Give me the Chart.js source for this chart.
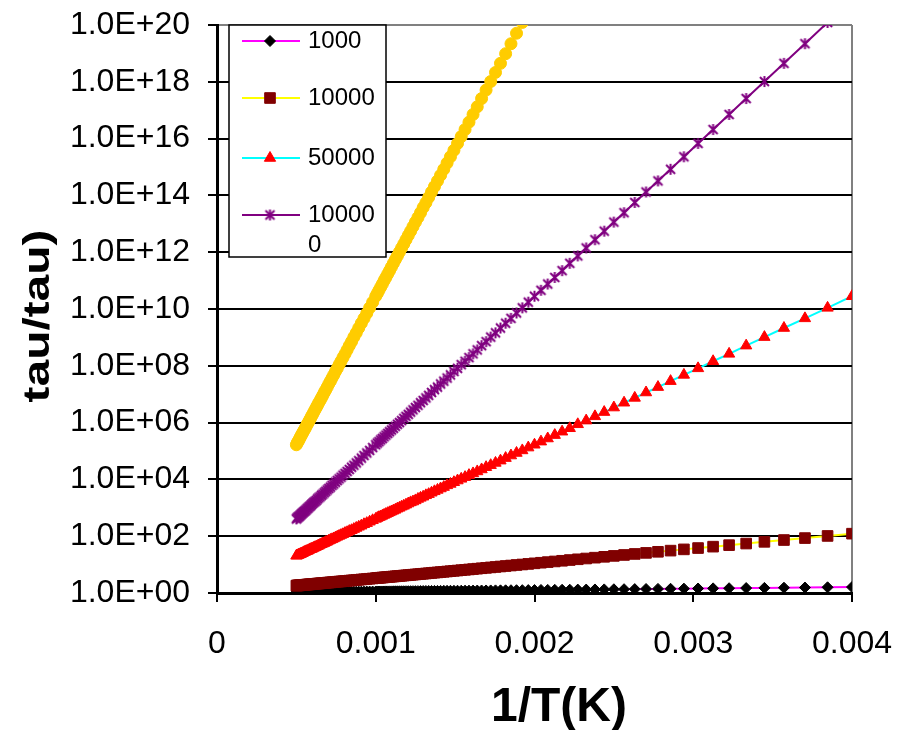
<!DOCTYPE html>
<html>
<head>
<meta charset="utf-8">
<script src="https://cdn.jsdelivr.net/npm/chart.js@4.4.0/dist/chart.umd.min.js"></script>
<style>
html, body { margin: 0; padding: 0; background: #fff; }
#wrap { width: 907px; height: 730px; }
</style>
</head>
<body>
<div id="wrap"><canvas id="chart" width="907" height="730"></canvas></div>
<script>
// temperatures of the points (K); x = 1/T
var temps = [
  250,260,270,280,290,300,310,320,330,340,
  350,360,370,380,390,400,410,420,430,440,
  450,460,470,480,490,500,510,520,530,540,
  550,560,570,580,590,600,610,620,630,640,
  650,660,670,680,690,700,710,720,730,740,
  750,760,770,780,790,800,810,820,830,840,
  850,860,870,880,890,900,910,920,930,940,
  950,960,970,980,990,1000,
  1020,1040,1060,1080,1100,1120,1140,1160,1180,1200,
  1220,1240,1260,1280,1300,1320,1340,1360,1380,1400,
  1420,1440,1460,1480,1500,1520,1540,1560,1580,1600,
  1620,1640,1660,1680,1700,1720,1740,1760,1780,1800,
  1820,1840,1860,1880,1900,1920,1940,1960,1980,2000
];

var seriesNames = ['1000', '10000', '50000', '100000', '200000'];

// log10(tau/tau0), one value per temperature
var log1000 = [
  0.209,0.201,0.193,0.187,0.180,0.174,0.168,0.163,0.158,0.154,
  0.149,0.145,0.141,0.137,0.134,0.131,0.127,0.124,0.121,0.119,
  0.116,0.114,0.111,0.109,0.107,0.104,0.102,0.100,0.099,0.097,
  0.095,0.093,0.092,0.090,0.089,0.087,0.086,0.084,0.083,0.082,
  0.080,0.079,0.078,0.077,0.076,0.075,0.074,0.073,0.072,0.071,
  0.070,0.069,0.068,0.067,0.066,0.065,0.064,0.064,0.063,0.062,
  0.061,0.061,0.060,0.059,0.059,0.058,0.057,0.057,0.056,0.056,
  0.055,0.054,0.054,0.053,0.053,0.052,
  0.051,0.050,0.049,0.048,0.047,0.047,0.046,0.045,0.044,0.044,
  0.043,0.042,0.041,0.041,0.040,0.040,0.039,0.038,0.038,0.037,
  0.037,0.036,0.036,0.035,0.035,0.034,0.034,0.033,0.033,0.033,
  0.032,0.032,0.031,0.031,0.031,0.030,0.030,0.030,0.029,0.029,
  0.029,0.028,0.028,0.028,0.027,0.027,0.027,0.027,0.026,0.026
];
var log10000 = [
  2.089,2.009,1.934,1.865,1.801,1.741,1.685,1.632,1.583,1.536,
  1.492,1.451,1.412,1.375,1.339,1.306,1.274,1.244,1.215,1.187,
  1.161,1.135,1.111,1.088,1.066,1.045,1.024,1.004,0.986,0.967,
  0.950,0.933,0.916,0.901,0.885,0.871,0.856,0.842,0.829,0.816,
  0.804,0.791,0.780,0.768,0.757,0.746,0.736,0.725,0.716,0.706,
  0.696,0.687,0.678,0.670,0.661,0.653,0.645,0.637,0.629,0.622,
  0.615,0.607,0.600,0.594,0.587,0.580,0.574,0.568,0.562,0.556,
  0.550,0.544,0.539,0.533,0.528,0.522,
  0.512,0.502,0.493,0.484,0.475,0.466,0.458,0.450,0.443,0.435,
  0.428,0.421,0.415,0.408,0.402,0.396,0.390,0.384,0.379,0.373,
  0.368,0.363,0.358,0.353,0.348,0.344,0.339,0.335,0.331,0.326,
  0.322,0.319,0.315,0.311,0.307,0.304,0.300,0.297,0.293,0.290,
  0.287,0.284,0.281,0.278,0.275,0.272,0.269,0.267,0.264,0.261
];
var log50000 = [
  10.45,10.04,9.67,9.33,9.01,8.71,8.42,8.16,7.91,7.68,
  7.46,7.25,7.06,6.87,6.70,6.53,6.37,6.22,6.07,5.94,
  5.80,5.68,5.56,5.44,5.33,5.22,5.12,5.02,4.93,4.84,
  4.75,4.66,4.58,4.50,4.43,4.35,4.28,4.21,4.15,4.08,
  4.02,3.96,3.90,3.84,3.79,3.73,3.68,3.63,3.58,3.53,
  3.48,3.44,3.39,3.35,3.31,3.26,3.22,3.19,3.15,3.11,
  3.07,3.04,3.00,2.97,2.93,2.90,2.87,2.84,2.81,2.78,
  2.75,2.72,2.69,2.67,2.64,2.61,
  2.56,2.51,2.46,2.42,2.37,2.33,2.29,2.25,2.21,2.18,
  2.14,2.11,2.07,2.04,2.01,1.98,1.95,1.92,1.89,1.87,
  1.84,1.81,1.79,1.76,1.74,1.72,1.70,1.67,1.65,1.63,
  1.61,1.59,1.57,1.55,1.54,1.52,1.50,1.48,1.47,1.45,
  1.44,1.42,1.40,1.39,1.37,1.36,1.35,1.33,1.32,1.31
];
var log100000 = [
  20.89,20.09,19.34,18.65,18.01,17.41,16.85,16.32,15.83,15.36,
  14.92,14.51,14.12,13.75,13.39,13.06,12.74,12.44,12.15,11.87,
  11.61,11.35,11.11,10.88,10.66,10.45,10.24,10.04,9.86,9.67,
  9.50,9.33,9.16,9.01,8.85,8.71,8.56,8.42,8.29,8.16,
  8.04,7.91,7.80,7.68,7.57,7.46,7.36,7.25,7.16,7.06,
  6.96,6.87,6.78,6.70,6.61,6.53,6.45,6.37,6.29,6.22,
  6.15,6.07,6.00,5.94,5.87,5.80,5.74,5.68,5.62,5.56,
  5.50,5.44,5.39,5.33,5.28,5.22,
  5.12,5.02,4.93,4.84,4.75,4.66,4.58,4.50,4.43,4.35,
  4.28,4.21,4.15,4.08,4.02,3.96,3.90,3.84,3.79,3.73,
  3.68,3.63,3.58,3.53,3.48,3.44,3.39,3.35,3.31,3.26,
  3.22,3.19,3.15,3.11,3.07,3.04,3.00,2.97,2.93,2.90,
  2.87,2.84,2.81,2.78,2.75,2.72,2.69,2.67,2.64,2.61
];
var log200000 = [
  null,null,null,null,null,null,null,null,null,null,
  null,null,null,null,null,null,null,null,null,null,
  null,null,null,null,null,null,null,20.09,19.71,19.34,
  18.99,18.65,18.33,18.01,17.71,17.41,17.12,16.85,16.58,16.32,
  16.07,15.83,15.59,15.36,15.14,14.92,14.71,14.51,14.31,14.12,
  13.93,13.74,13.57,13.39,13.22,13.06,12.90,12.74,12.59,12.44,
  12.29,12.15,12.01,11.87,11.74,11.61,11.48,11.35,11.23,11.11,
  11.00,10.88,10.77,10.66,10.55,10.45,
  10.24,10.04,9.85,9.67,9.50,9.33,9.16,9.01,8.85,8.71,
  8.56,8.42,8.29,8.16,8.04,7.91,7.80,7.68,7.57,7.46,
  7.36,7.25,7.15,7.06,6.96,6.87,6.78,6.70,6.61,6.53,
  6.45,6.37,6.29,6.22,6.14,6.07,6.00,5.94,5.87,5.80,
  5.74,5.68,5.62,5.56,5.50,5.44,5.38,5.33,5.28,5.22
];

var xTicks = [0, 0.001, 0.002, 0.003, 0.004];
var yTickExp = [0, 2, 4, 6, 8, 10, 12, 14, 16, 18, 20];
var xTitle = '1/T(K)';
var yTitle = 'tau/tau)';

var FONT = '"Liberation Sans", Arial, sans-serif';
Chart.defaults.font.family = FONT;
Chart.defaults.color = '#000';

// excel style asterisk marker
var star = document.createElement('canvas');
star.width = 13; star.height = 13;
var sc = star.getContext('2d');
sc.strokeStyle = '#800080';
sc.lineWidth = 2;
sc.beginPath();
sc.moveTo(2, 2); sc.lineTo(11, 11);
sc.moveTo(11, 2); sc.lineTo(2, 11);
sc.moveTo(6.5, 1); sc.lineTo(6.5, 12);
sc.stroke();

var allLogs = [log1000, log10000, log50000, log100000, log200000];
var lineColors = ['#FF00FF', '#FFFF00', '#00FFFF', '#800080', '#800000'];
var markColors = ['#000000', '#800000', '#FF0000', '#800080', '#FFCC00'];
var markStyles = ['rectRot', 'rect', 'triangle', star, 'circle'];
var markRadius = [5.5, 7.5, 6.5, 6, 6];
var lineWidths = [2, 2, 2, 2, 1];

function toPoints(logs) {
  var out = [];
  for (var i = 0; i < temps.length; i++) {
    if (logs[i] === null || logs[i] === undefined) continue;
    out.push({ x: 1 / temps[i], y: Math.pow(10, logs[i]) });
  }
  return out;
}

var datasets = [];
for (var s = 0; s < allLogs.length; s++) {
  datasets.push({
    label: seriesNames[s],
    data: toPoints(allLogs[s]),
    borderColor: lineColors[s],
    borderWidth: lineWidths[s],
    backgroundColor: markColors[s],
    pointBackgroundColor: markColors[s],
    pointBorderColor: markColors[s],
    pointBorderWidth: 1,
    pointStyle: markStyles[s],
    pointRadius: markRadius[s],
    pointHoverRadius: markRadius[s],
    tension: 0,
    fill: false,
    order: allLogs.length - s
  });
}

function drawMark(ctx, s, x, y) {
  ctx.fillStyle = markColors[s];
  ctx.strokeStyle = markColors[s];
  ctx.lineWidth = 1;
  Chart.helpers.drawPoint(ctx, { pointStyle: markStyles[s], radius: markRadius[s], rotation: 0, borderWidth: 1 }, x, y);
}

var extras = {
  id: 'extras',
  afterDraw: function (chart) {
    var ctx = chart.ctx;
    ctx.save();
    ctx.fillStyle = '#000';

    // y axis title, stretched along its length like the original
    ctx.save();
    ctx.translate(49, 316);
    ctx.rotate(-Math.PI / 2);
    ctx.scale(1.33, 1);
    ctx.font = 'bold 36px ' + FONT;
    ctx.textAlign = 'center';
    ctx.textBaseline = 'alphabetic';
    ctx.fillText(yTitle, 0, 0);
    ctx.restore();

    // x axis title
    ctx.font = 'bold 48px ' + FONT;
    ctx.textAlign = 'center';
    ctx.textBaseline = 'alphabetic';
    ctx.fillText(xTitle, 559, 721);

    // legend (box too small: only four entries show, last one wraps)
    var bx = 229, by = 25, bw = 157, bh = 232;
    ctx.fillStyle = '#fff';
    ctx.fillRect(bx, by, bw, bh);
    ctx.strokeStyle = '#000';
    ctx.lineWidth = 1.5;
    ctx.strokeRect(bx, by, bw, bh);

    ctx.save();
    ctx.beginPath();
    ctx.rect(bx + 1, by + 1, bw - 2, bh - 2);
    ctx.clip();
    var rows = [41, 98, 158, 215];
    ctx.font = '24px ' + FONT;
    ctx.textAlign = 'left';
    ctx.textBaseline = 'middle';
    var maxW = bx + bw - 308 - 2;
    for (var i = 0; i < rows.length; i++) {
      var y = rows[i];
      ctx.strokeStyle = lineColors[i];
      ctx.lineWidth = 2;
      ctx.beginPath();
      ctx.moveTo(242, y);
      ctx.lineTo(300, y);
      ctx.stroke();
      drawMark(ctx, i, 270, y);
      // wrap label by characters
      var txt = seriesNames[i], lines = [], cur = '';
      for (var c = 0; c < txt.length; c++) {
        if (ctx.measureText(cur + txt[c]).width > maxW && cur) { lines.push(cur); cur = ''; }
        cur += txt[c];
      }
      lines.push(cur);
      ctx.fillStyle = '#000';
      for (var l = 0; l < lines.length; l++) ctx.fillText(lines[l], 308, y + l * 30);
    }
    ctx.restore();
    ctx.restore();
  }
};

new Chart(document.getElementById('chart').getContext('2d'), {
  type: 'line',
  data: { datasets: datasets },
  options: {
    responsive: false,
    animation: false,
    events: [],
    layout: { padding: { left: 0, right: 55, top: 25, bottom: 0 } },
    plugins: { legend: { display: false }, tooltip: { enabled: false }, title: { display: false } },
    scales: {
      x: {
        type: 'linear',
        min: 0,
        max: 0.004,
        afterBuildTicks: function (sc) { sc.ticks = xTicks.map(function (v) { return { value: v }; }); },
        afterFit: function (sc) { sc.height = 137; sc.paddingLeft = 0; sc.paddingRight = 0; },
        ticks: {
          color: '#000',
          font: { size: 32 },
          padding: 23,
          maxRotation: 0,
          autoSkip: false,
          callback: function (v) { return v === 0 ? '0' : Number(v).toFixed(3); }
        },
        grid: {
          color: function (c) { return c.tick && c.tick.value > 0.0039 ? '#808080' : 'rgba(0,0,0,0)'; },
          lineWidth: 2,
          tickColor: '#000',
          tickLength: 9,
          tickWidth: 2
        },
        border: { color: '#000', width: 3 }
      },
      y: {
        type: 'logarithmic',
        min: 1,
        max: 1e20,
        afterBuildTicks: function (sc) { sc.ticks = yTickExp.map(function (e) { return { value: Math.pow(10, e) }; }); },
        afterFit: function (sc) { sc.width = 217; sc.paddingTop = 0; sc.paddingBottom = 0; },
        ticks: {
          color: '#000',
          font: { size: 32 },
          padding: 18,
          autoSkip: false,
          callback: function (v) {
            var e = Math.round(Math.log10(v));
            return '1.0E+' + (e < 10 ? '0' : '') + e;
          }
        },
        grid: {
          color: function (c) { return c.tick && c.tick.value >= 1e19 ? '#808080' : '#000'; },
          lineWidth: 2,
          tickColor: '#000',
          tickLength: 9,
          tickWidth: 2
        },
        border: { color: '#000', width: 3 }
      }
    }
  },
  plugins: [extras]
});
</script>
</body>
</html>
